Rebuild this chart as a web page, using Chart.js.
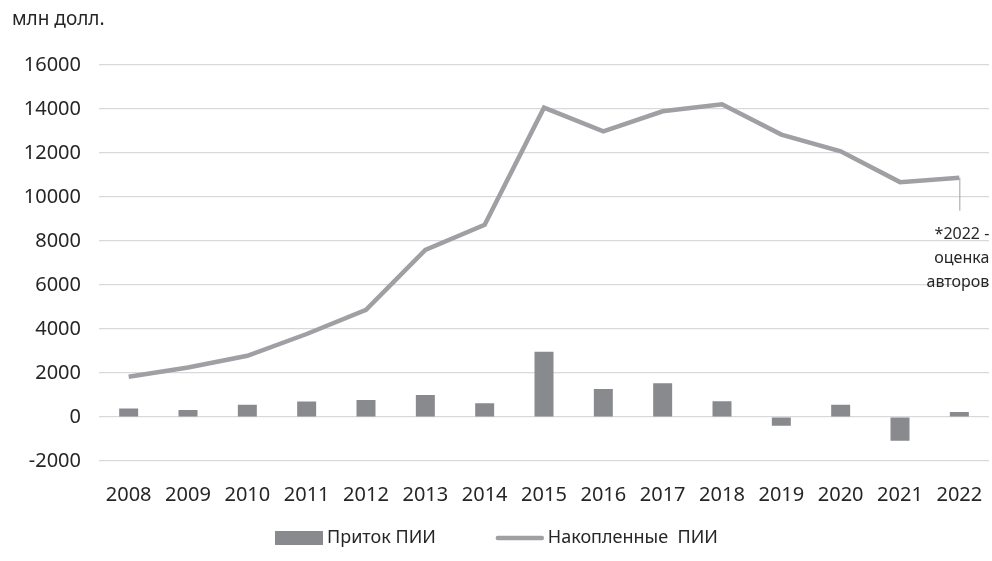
<!DOCTYPE html>
<html>
<head>
<meta charset="utf-8">
<script src="https://cdn.jsdelivr.net/npm/chart.js@4.4.1/dist/chart.umd.min.js"></script>
<style>
    html, body { margin: 0; padding: 0; background: #fff; }
    #wrap { width: 992px; height: 561px; }
</style>
</head>
<body>
<div id="wrap"><canvas id="myChart" width="992" height="561"></canvas></div>
<script>
// data
var years = ['2008', '2009', '2010', '2011', '2012', '2013', '2014', '2015', '2016', '2017', '2018', '2019', '2020', '2021', '2022'];
var inflow = [380, 320, 560, 700, 775, 1000, 620, 2960, 1275, 1530, 715, -395, 560, -1080, 230];
var accumulated = [1830, 2250, 2780, 3770, 4870, 7590, 8730, 14050, 12980, 13890, 14210, 12830, 12070, 10670, 10870];
var yTicks = [-2000, 0, 2000, 4000, 6000, 8000, 10000, 12000, 14000, 16000];
var noteLines = ['*2022 -', 'оценка', 'авторов'];

var fontName = '"Noto Sans", sans-serif';
var textColor = '#262626';

// note under the last point of the accumulated line
var notePlugin = {
    id: 'note',
    afterDatasetsDraw: function (chart) {
        var ctx = chart.ctx;
        var x = chart.scales.x.getPixelForValue(years.length - 1);
        var y = chart.scales.y.getPixelForValue(accumulated[accumulated.length - 1]);
        ctx.save();
        ctx.strokeStyle = '#a0a0a4';
        ctx.lineWidth = 1;
        ctx.beginPath();
        ctx.moveTo(x + 0.5, y);
        ctx.lineTo(x + 0.5, y + 33);
        ctx.stroke();
        ctx.fillStyle = textColor;
        ctx.font = '16px ' + fontName;
        ctx.textAlign = 'right';
        ctx.textBaseline = 'middle';
        noteLines.forEach(function (t, i) {
            ctx.fillText(t, x + 30, y + 57 + i * 24);
        });
        ctx.restore();
    }
};

// legend at the bottom: bar swatch, then line swatch
var legendPlugin = {
    id: 'bottomLegend',
    afterDraw: function (chart) {
        var ctx = chart.ctx;
        var y = 538;
        var x = 275;
        ctx.save();
        ctx.font = '18px ' + fontName;
        ctx.textBaseline = 'middle';
        ctx.fillStyle = textColor;
        var items = [chart.data.datasets[1], chart.data.datasets[0]];
        items.forEach(function (ds) {
            if (ds.type === 'bar') {
                ctx.fillStyle = ds.backgroundColor;
                ctx.fillRect(x, y - 7, 48, 14);
            } else {
                ctx.strokeStyle = ds.borderColor;
                ctx.lineWidth = 4.5;
                ctx.lineCap = 'round';
                ctx.beginPath();
                ctx.moveTo(x + 2, y);
                ctx.lineTo(x + 46, y);
                ctx.stroke();
            }
            ctx.fillStyle = textColor;
            ctx.fillText(ds.label, x + 52, y);
            x += 52 + ctx.measureText(ds.label).width + 60;
        });
        ctx.restore();
    }
};

document.addEventListener('DOMContentLoaded', function () {
    var ctx = document.getElementById('myChart').getContext('2d');

    var myChart = new Chart(ctx, {
        type: 'bar',
        data: {
            labels: years,
            datasets: [{
                type: 'line',
                label: 'Накопленные  ПИИ',
                data: accumulated,
                borderColor: '#a0a0a4',
                backgroundColor: '#a0a0a4',
                borderWidth: 4.5,
                pointRadius: 0,
                tension: 0,
                order: 0
            }, {
                type: 'bar',
                label: 'Приток ПИИ',
                data: inflow,
                backgroundColor: '#898a8e',
                borderWidth: 0,
                categoryPercentage: 1,
                barPercentage: 0.32,
                order: 1
            }]
        },
        options: {
            responsive: false,
            animation: false,
            layout: {
                padding: { left: 12, right: 3, bottom: 32 }
            },
            scales: {
                x: {
                    grid: { display: false, drawTicks: false },
                    border: { display: false },
                    afterFit: function (scale) {
                        scale.paddingLeft = 0;
                        scale.paddingRight = 0;
                    },
                    ticks: {
                        color: textColor,
                        font: { family: fontName, size: 20 },
                        padding: 22,
                        maxRotation: 0
                    }
                },
                y: {
                    min: -2000,
                    max: 16000,
                    border: { display: false },
                    grid: { color: '#d9d9d9', lineWidth: 1.2, drawTicks: false },
                    afterBuildTicks: function (scale) {
                        scale.ticks = yTicks.map(function (v) { return { value: v }; });
                    },
                    afterFit: function (scale) {
                        scale.width = 87;
                    },
                    ticks: {
                        color: textColor,
                        font: { family: fontName, size: 20 },
                        padding: 18,
                        callback: function (v) { return String(v); }
                    }
                }
            },
            plugins: {
                title: {
                    display: true,
                    text: 'млн долл.',
                    align: 'start',
                    color: textColor,
                    font: { family: fontName, size: 19, weight: 'normal' },
                    padding: { top: 8, bottom: 34 }
                },
                legend: { display: false },
                tooltip: { enabled: false }
            }
        },
        plugins: [notePlugin, legendPlugin]
    });
});
</script>
</body>
</html>
